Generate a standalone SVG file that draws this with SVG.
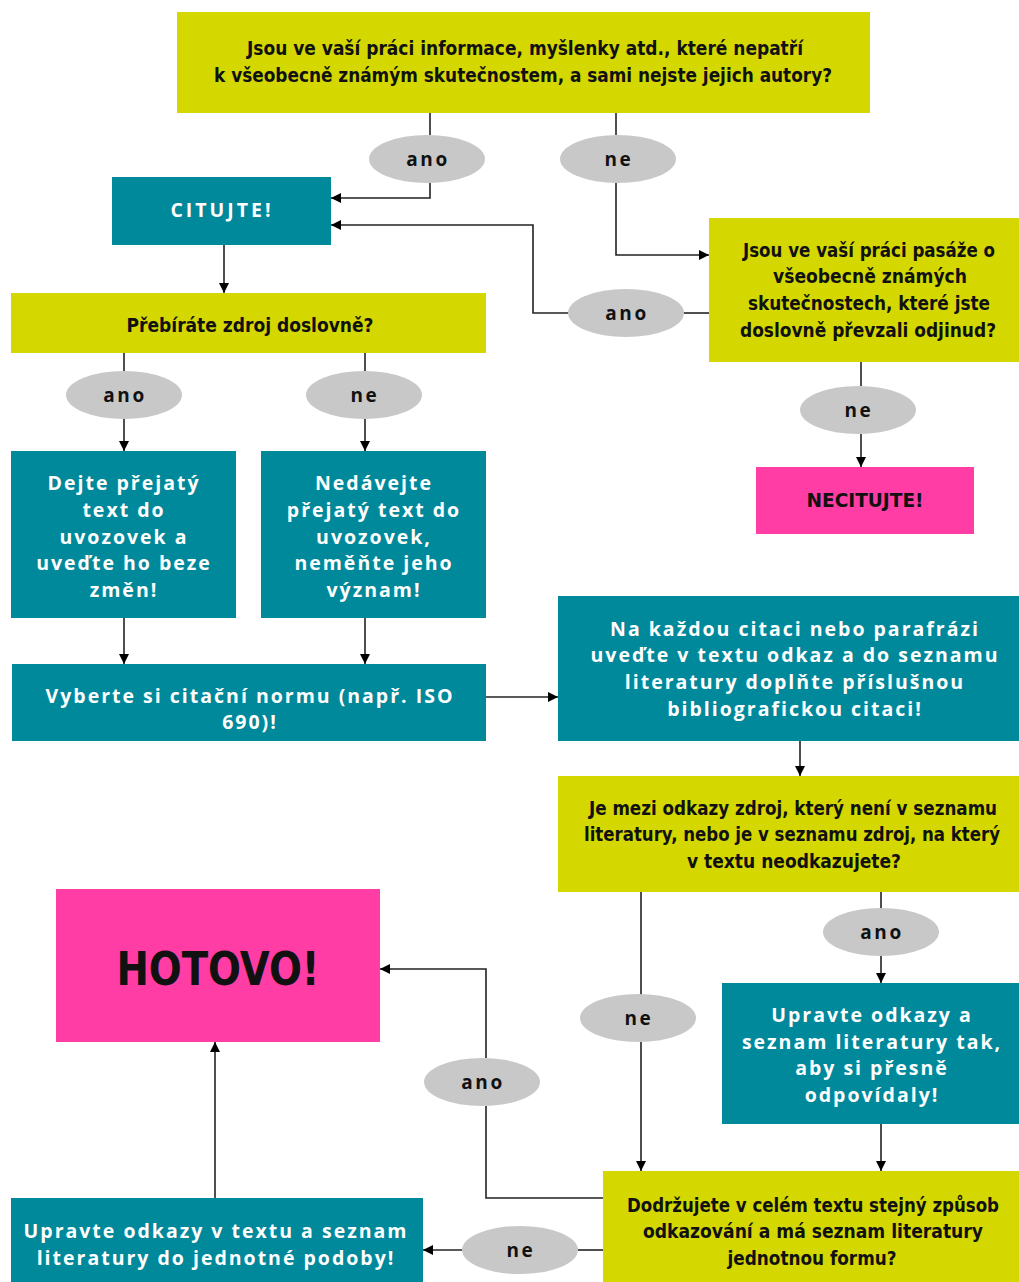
<svg xmlns="http://www.w3.org/2000/svg" width="1019" height="1282" viewBox="0 0 1019 1282">
<defs>
<marker id="ah" viewBox="0 0 10 10" refX="10" refY="5" markerWidth="10" markerHeight="10" markerUnits="userSpaceOnUse" orient="auto">
<path d="M0,0 L10,5 L0,10 z" fill="#000"/>
</marker>
<style>
.y{fill:#d4d800}
.t{fill:#00899b}
.p{fill:#ff3da5}
.e{fill:#c8c8c8}
.yt{font-family:"DejaVu Sans",sans-serif;font-stretch:condensed;font-weight:bold;font-size:20px;fill:#111;text-anchor:middle}
.tt{font-family:"Open Sans","DejaVu Sans",sans-serif;font-weight:bold;font-size:19.5px;fill:#fff;text-anchor:middle;letter-spacing:2px}
.et{font-family:"Open Sans","DejaVu Sans",sans-serif;font-weight:bold;font-size:19px;fill:#111;text-anchor:middle;letter-spacing:2.6px}
.c{fill:none;stroke:#222;stroke-width:1.6}
</style>
</defs>
<rect width="1019" height="1282" fill="#fff"/>

<g id="connectors">
<path class="c" d="M430,113 V135"/>
<path class="c" d="M430,183 V198 H331" marker-end="url(#ah)"/>
<path class="c" d="M616,113 V135"/>
<path class="c" d="M616,183 V255 H709" marker-end="url(#ah)"/>
<path class="c" d="M709,313 H684"/>
<path class="c" d="M568,313 H533 V225 H331" marker-end="url(#ah)"/>
<path class="c" d="M224,245 V293" marker-end="url(#ah)"/>
<path class="c" d="M861,362 V386"/>
<path class="c" d="M861,434 V467" marker-end="url(#ah)"/>
<path class="c" d="M124,353 V371"/>
<path class="c" d="M124,419 V451" marker-end="url(#ah)"/>
<path class="c" d="M365,353 V371"/>
<path class="c" d="M365,419 V451" marker-end="url(#ah)"/>
<path class="c" d="M124,618 V664" marker-end="url(#ah)"/>
<path class="c" d="M365,618 V664" marker-end="url(#ah)"/>
<path class="c" d="M486,697 H558" marker-end="url(#ah)"/>
<path class="c" d="M800,741 V776" marker-end="url(#ah)"/>
<path class="c" d="M641,892 V995"/>
<path class="c" d="M641,1042 V1171" marker-end="url(#ah)"/>
<path class="c" d="M881,892 V908"/>
<path class="c" d="M881,956 V983" marker-end="url(#ah)"/>
<path class="c" d="M881,1124 V1171" marker-end="url(#ah)"/>
<path class="c" d="M603,1198 H486 V1106"/>
<path class="c" d="M486,1058 V969 H380" marker-end="url(#ah)"/>
<path class="c" d="M215,1198 V1042" marker-end="url(#ah)"/>
<path class="c" d="M603,1250 H578"/>
<path class="c" d="M462,1250 H423" marker-end="url(#ah)"/>
</g>

<g id="q1">
<rect class="y" x="177" y="12" width="693" height="101"/>
<text class="yt" x="525" y="55" textLength="556" lengthAdjust="spacingAndGlyphs">Jsou ve vaší práci informace, myšlenky atd., které nepatří</text>
<text class="yt" x="523" y="82" textLength="618" lengthAdjust="spacingAndGlyphs">k všeobecně známým skutečnostem, a sami nejste jejich autory?</text>
</g>
<g id="l-ano1"><ellipse class="e" cx="427" cy="159" rx="58" ry="24"/><text class="et" x="428" y="166">ano</text></g>
<g id="l-ne1"><ellipse class="e" cx="618" cy="159" rx="58" ry="24"/><text class="et" x="619" y="166">ne</text></g>

<g id="citujte">
<rect class="t" x="112" y="177" width="219" height="68"/>
<text class="tt" x="222" y="217" style="letter-spacing:3px">CITUJTE!</text>
</g>

<g id="q2">
<rect class="y" x="709" y="218" width="310" height="144"/>
<text class="yt" x="869" y="257" textLength="252" lengthAdjust="spacingAndGlyphs">Jsou ve vaší práci pasáže o</text>
<text class="yt" x="870" y="283" textLength="194" lengthAdjust="spacingAndGlyphs">všeobecně známých</text>
<text class="yt" x="869" y="310" textLength="242" lengthAdjust="spacingAndGlyphs">skutečnostech, které jste</text>
<text class="yt" x="868" y="337" textLength="256" lengthAdjust="spacingAndGlyphs">doslovně převzali odjinud?</text>
</g>
<g id="l-ano2"><ellipse class="e" cx="626" cy="313" rx="58" ry="24"/><text class="et" x="627" y="320">ano</text></g>
<g id="l-ne2"><ellipse class="e" cx="858" cy="410" rx="58" ry="24"/><text class="et" x="859" y="417">ne</text></g>

<g id="necitujte">
<rect class="p" x="756" y="467" width="218" height="67"/>
<text class="yt" x="865" y="507" textLength="117" lengthAdjust="spacingAndGlyphs">NECITUJTE!</text>
</g>

<g id="q3">
<rect class="y" x="11" y="293" width="475" height="60"/>
<text class="yt" x="250" y="332" textLength="247" lengthAdjust="spacingAndGlyphs">Přebíráte zdroj doslovně?</text>
</g>
<g id="l-ano3"><ellipse class="e" cx="124" cy="395" rx="58" ry="24"/><text class="et" x="125" y="402">ano</text></g>
<g id="l-ne3"><ellipse class="e" cx="364" cy="395" rx="58" ry="24"/><text class="et" x="365" y="402">ne</text></g>

<g id="dejte">
<rect class="t" x="11" y="451" width="225" height="167"/>
<text class="tt" x="124" y="490">Dejte přejatý</text>
<text class="tt" x="124" y="517">text do</text>
<text class="tt" x="124" y="544">uvozovek a</text>
<text class="tt" x="124" y="570">uveďte ho beze</text>
<text class="tt" x="124" y="597">změn!</text>
</g>
<g id="nedavejte">
<rect class="t" x="261" y="451" width="225" height="167"/>
<text class="tt" x="374" y="490">Nedávejte</text>
<text class="tt" x="374" y="517">přejatý text do</text>
<text class="tt" x="374" y="544">uvozovek,</text>
<text class="tt" x="374" y="570">neměňte jeho</text>
<text class="tt" x="374" y="597">význam!</text>
</g>

<g id="vyberte">
<rect class="t" x="12" y="664" width="474" height="77"/>
<text class="tt" x="250" y="703">Vyberte si citační normu (např. ISO</text>
<text class="tt" x="250" y="729">690)!</text>
</g>

<g id="nakazdou">
<rect class="t" x="558" y="596" width="461" height="145"/>
<text class="tt" x="795" y="636">Na každou citaci nebo parafrázi</text>
<text class="tt" x="795" y="662">uveďte v textu odkaz a do seznamu</text>
<text class="tt" x="795" y="689">literatury doplňte příslušnou</text>
<text class="tt" x="795" y="716">bibliografickou citaci!</text>
</g>

<g id="q4">
<rect class="y" x="558" y="776" width="461" height="116"/>
<text class="yt" x="793" y="815" textLength="408" lengthAdjust="spacingAndGlyphs">Je mezi odkazy zdroj, který není v seznamu</text>
<text class="yt" x="792" y="841" textLength="416" lengthAdjust="spacingAndGlyphs">literatury, nebo je v seznamu zdroj, na který</text>
<text class="yt" x="794" y="868" textLength="214" lengthAdjust="spacingAndGlyphs">v textu neodkazujete?</text>
</g>
<g id="l-ano4"><ellipse class="e" cx="881" cy="932" rx="58" ry="24"/><text class="et" x="882" y="939">ano</text></g>
<g id="l-ne4"><ellipse class="e" cx="638" cy="1018" rx="58" ry="24"/><text class="et" x="639" y="1025">ne</text></g>

<g id="hotovo">
<rect class="p" x="56" y="889" width="324" height="153"/>
<text class="yt" x="218" y="985" style="font-size:46px" textLength="203" lengthAdjust="spacingAndGlyphs">HOTOVO!</text>
</g>

<g id="upravte1">
<rect class="t" x="722" y="983" width="297" height="141"/>
<text class="tt" x="872" y="1022">Upravte odkazy a</text>
<text class="tt" x="872" y="1049">seznam literatury tak,</text>
<text class="tt" x="872" y="1075">aby si přesně</text>
<text class="tt" x="872" y="1102">odpovídaly!</text>
</g>

<g id="q5">
<rect class="y" x="603" y="1171" width="416" height="111"/>
<text class="yt" x="813" y="1212" textLength="372" lengthAdjust="spacingAndGlyphs">Dodržujete v celém textu stejný způsob</text>
<text class="yt" x="813" y="1238" textLength="340" lengthAdjust="spacingAndGlyphs">odkazování a má seznam literatury</text>
<text class="yt" x="812" y="1265" textLength="169" lengthAdjust="spacingAndGlyphs">jednotnou formu?</text>
</g>
<g id="l-ano5"><ellipse class="e" cx="482" cy="1082" rx="58" ry="24"/><text class="et" x="483" y="1089">ano</text></g>
<g id="l-ne5"><ellipse class="e" cx="520" cy="1250" rx="58" ry="24"/><text class="et" x="521" y="1257">ne</text></g>

<g id="upravte2">
<rect class="t" x="11" y="1198" width="412" height="84"/>
<text class="tt" x="216" y="1238">Upravte odkazy v textu a seznam</text>
<text class="tt" x="216" y="1265">literatury do jednotné podoby!</text>
</g>
</svg>
